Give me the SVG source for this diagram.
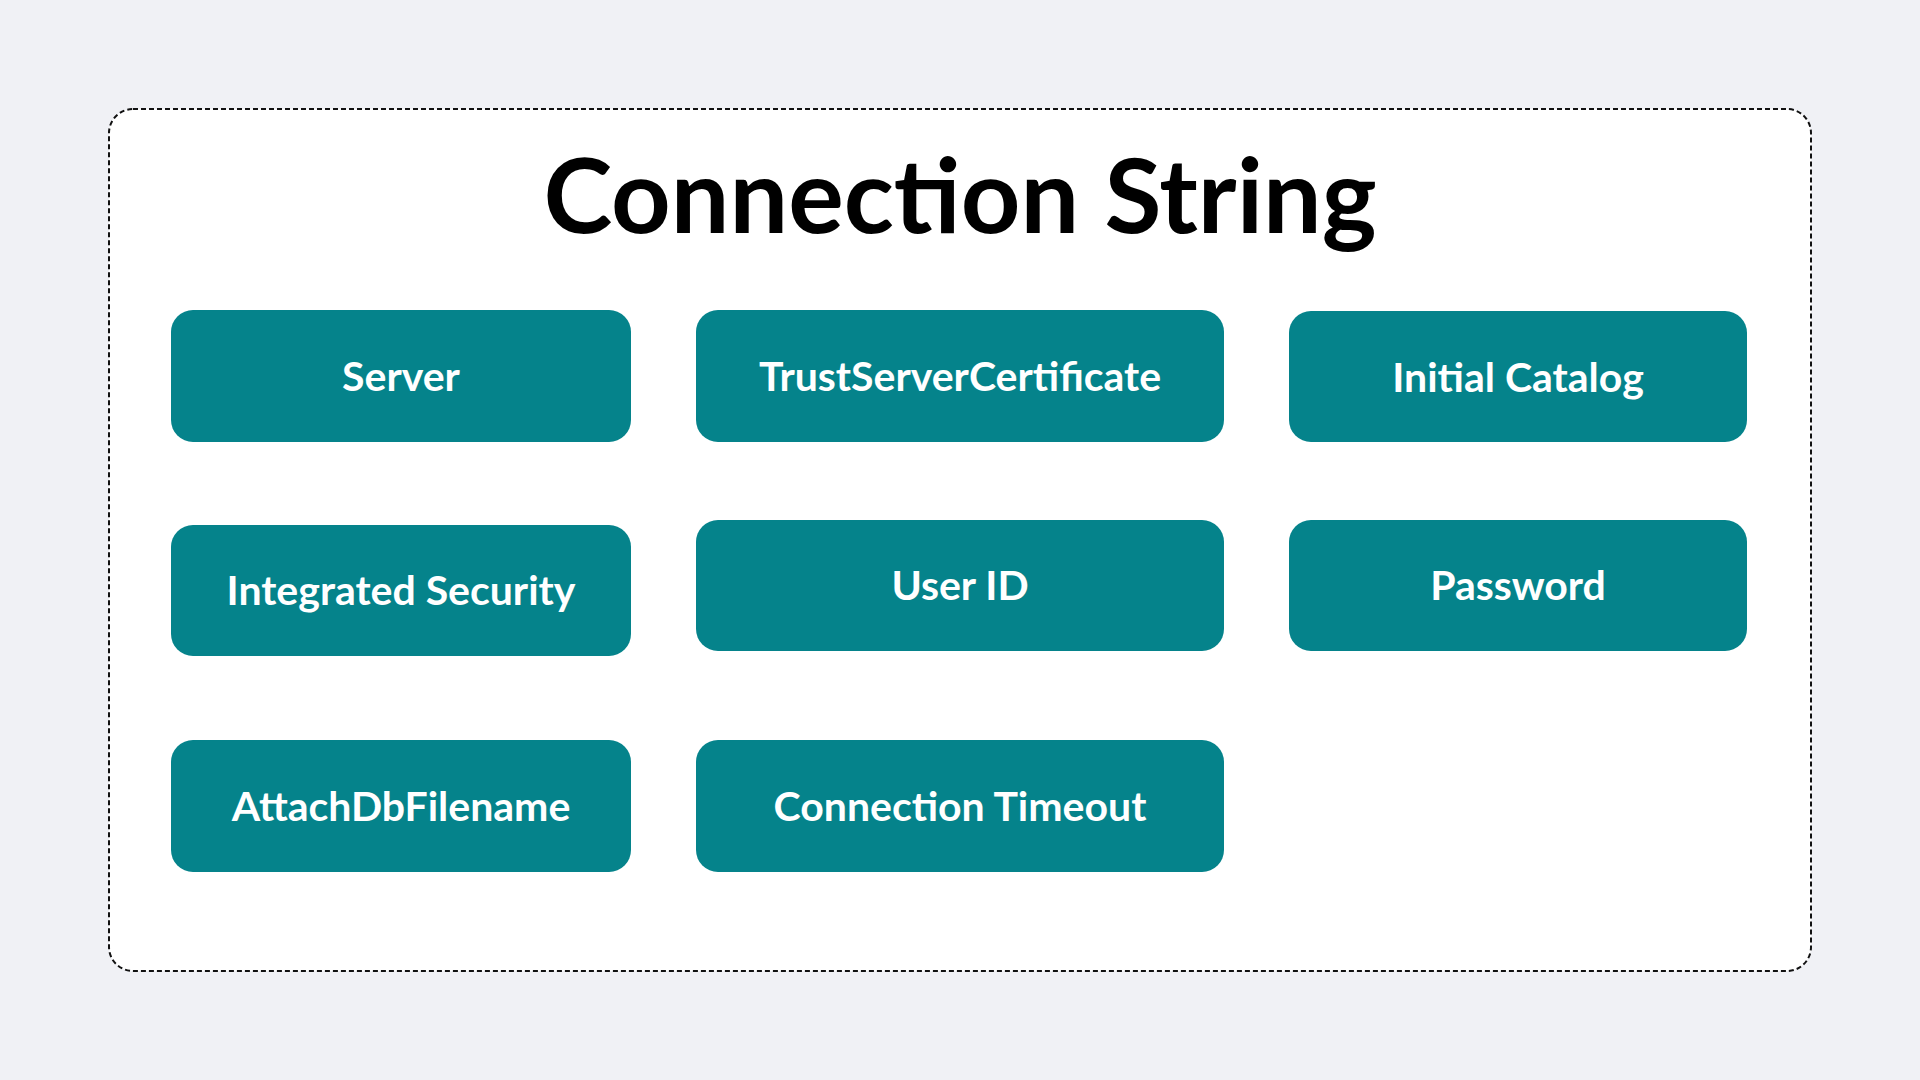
<svg xmlns="http://www.w3.org/2000/svg" width="1920" height="1080" viewBox="0 0 1920 1080">
<style>
.n rect{fill:#05838B}
.n text{fill:#fff;font-family:Lato,"Open Sans",sans-serif;font-weight:bold;font-size:41px;text-anchor:middle}
</style>
<rect width="1920" height="1080" fill="#F0F1F5"/>
<rect x="109" y="109" width="1702" height="862" rx="24" fill="#fff" stroke="#111" stroke-width="2" stroke-dasharray="5,3"/>
<text x="960" y="233" font-family="Lato,'Open Sans',sans-serif" font-weight="bold" font-size="104" text-anchor="middle" fill="#000">Connection String</text>
<g id="server" class="n"><rect x="171" y="310" width="460" height="132" rx="22"/><text x="401" y="391">Server</text></g>
<g id="trust" class="n"><rect x="696" y="310" width="528" height="132" rx="22"/><text x="960" y="391">TrustServerCertificate</text></g>
<g id="catalog" class="n"><rect x="1289" y="311" width="458" height="131" rx="22"/><text x="1518" y="392">Initial Catalog</text></g>
<g id="integrated" class="n"><rect x="171" y="525" width="460" height="131" rx="22"/><text x="401" y="605">Integrated Security</text></g>
<g id="userid" class="n"><rect x="696" y="520" width="528" height="131" rx="22"/><text x="960" y="600">User ID</text></g>
<g id="password" class="n"><rect x="1289" y="520" width="458" height="131" rx="22"/><text x="1518" y="600">Password</text></g>
<g id="attach" class="n"><rect x="171" y="740" width="460" height="132" rx="22"/><text x="401" y="821">AttachDbFilename</text></g>
<g id="timeout" class="n"><rect x="696" y="740" width="528" height="132" rx="22"/><text x="960" y="821">Connection Timeout</text></g>
<g id="connectors"/>
</svg>
